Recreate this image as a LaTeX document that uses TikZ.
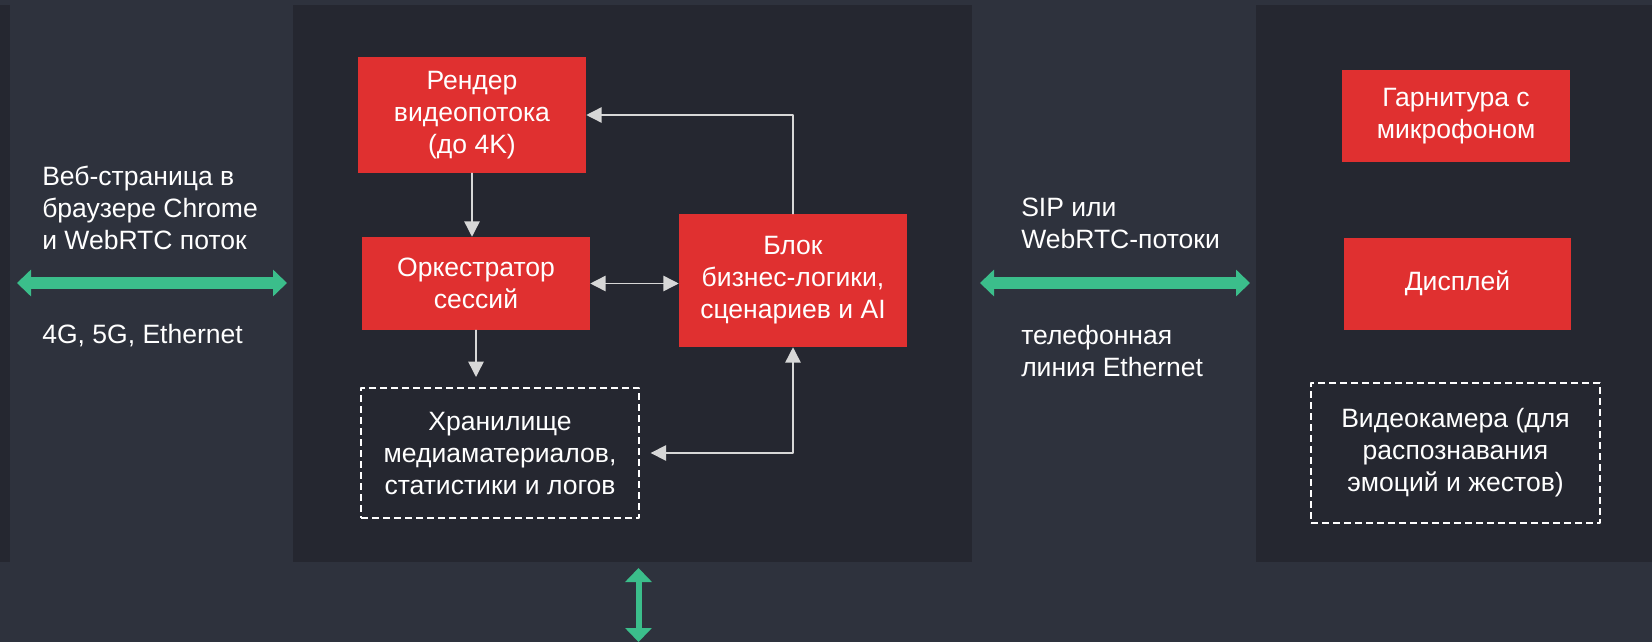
\documentclass[tikz,border=0pt]{standalone}
\usepackage{fontspec}
\setmainfont{Liberation Sans}
\usetikzlibrary{arrows.meta}
\definecolor{bgcol}{RGB}{46,50,61}
\definecolor{panelcol}{RGB}{37,39,48}
\definecolor{boxred}{RGB}{224,48,48}
\definecolor{linkgreen}{RGB}{59,190,139}
\definecolor{wirecol}{RGB}{215,215,215}
\begin{document}
\begin{tikzpicture}[line cap=round,line join=round,>={Triangle[length=11.5pt,width=11.5pt]},x=0.75pt,y=-0.75pt,
  every node/.style={font=\fontsize{19.9pt}{24pt}\selectfont,text=white},
  redbox/.style={fill=boxred,inner sep=0pt,align=center,minimum width=171pt},
  dashbox/.style={draw=white,line width=1.5pt,dash pattern=on 5.25pt off 3pt,line cap=butt,inner sep=0pt,align=center},
  wire/.style={draw=wirecol,line width=1.1pt},
  greenlink/.style={draw=linkgreen,line width=9pt,line cap=butt,{Triangle[length=10.5pt,width=19.5pt]}-{Triangle[length=10.5pt,width=19.5pt]}},
  sidetext/.style={align=left,inner sep=0pt,anchor=west}]
\useasboundingbox (0,0) rectangle (1652,642);
\fill[bgcol] (0,0) rectangle (1652,642);
% panels
\fill[panelcol] (0,5) rectangle (10,562);
\fill[panelcol] (293,5) rectangle (972,562);
\fill[panelcol] (1256,5) rectangle (1652,562);
% central block
\node[redbox,minimum height=87pt] (render) at (472,115) {Рендер\\видеопотока\\(до 4K)};
\node[redbox,minimum height=69.75pt] (orch) at (476,283.5) {Оркестратор\\сессий};
\node[redbox,minimum height=99.75pt] (logic) at (793,280.5) {Блок\\бизнес-логики,\\сценариев и AI};
\node[dashbox,minimum width=208.5pt,minimum height=97.5pt] (store) at (500,453) {Хранилище\\медиаматериалов,\\статистики и логов};
% devices
\node[redbox,minimum height=69pt] (headset) at (1456,116) {Гарнитура с\\микрофоном};
\node[redbox,minimum width=170.25pt,minimum height=69pt] (display) at (1457.5,283.5) {Дисплей};
\node[dashbox,minimum width=216.75pt,minimum height=105pt] (camera) at (1455.5,453) {Видеокамера (для\\распознавания\\эмоций и жестов)};
% links text
\node[sidetext] (webtxt) at (42,208) {Веб-страница в\\браузере Chrome\\и WebRTC поток};
\node[sidetext] (nettxt) at (42,336) {4G, 5G, Ethernet};
\node[sidetext] (siptxt) at (1021,223) {SIP или\\WebRTC-потоки};
\node[sidetext] (teltxt) at (1021,351.5) {телефонная\\линия Ethernet};
% connectors
\draw[wire,->] (render.south) -- (render.south |- orch.north);
\draw[wire,<->] (orch.east) -- (orch.east -| logic.west);
\draw[wire,->,shorten >=7.5pt] (orch.south) -- (orch.south |- store.north);
\draw[wire,->] (logic.north) |- (render.east);
\draw[wire,<->,shorten <=8pt] (store.east) -| (logic.south);
% green links
\coordinate (wl) at (17,283);
\coordinate (wr) at (287,283);
\coordinate (sl) at (980,283);
\coordinate (sr) at (1250,283);
\coordinate (dt) at (638.5,568);
\coordinate (db) at (638.5,642);
\draw[greenlink] (wl) -- (wr);
\draw[greenlink] (sl) -- (sr);
\draw[greenlink,line width=4.5pt] (dt) -- (db);
\end{tikzpicture}
\end{document}
